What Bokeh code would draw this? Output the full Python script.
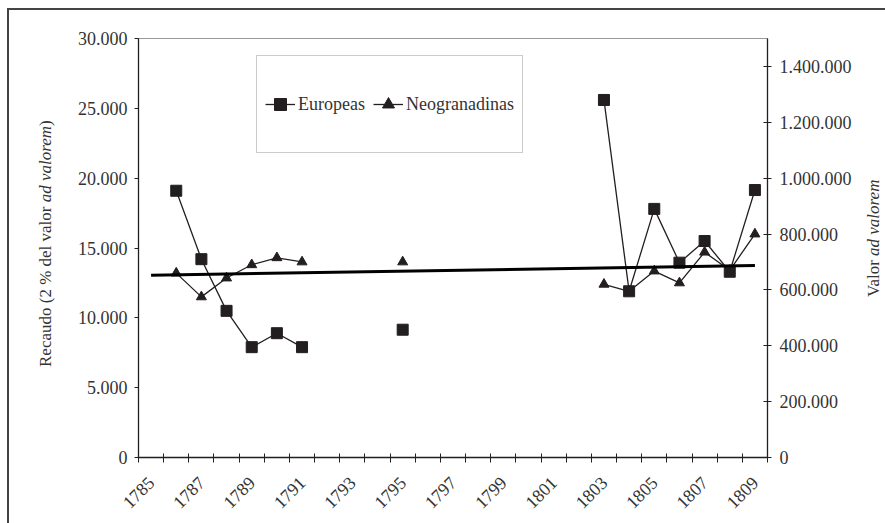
import math
import numpy as np
from bokeh.plotting import figure
from bokeh.layouts import row
from bokeh.models import (ColumnDataSource, FixedTicker, LinearAxis, Range1d,
                          Legend, LegendItem, Div)
from bokeh.embed import file_html
from bokeh.resources import INLINE

# ---------------- data ----------------
years = list(range(1785, 1810))
nan = float("nan")
europeas = [nan, 19100, 14200, 10500, 7900, 8900, 7900, nan, nan, nan, 9150,
            nan, nan, nan, nan, nan, nan, nan, 25600, 11900, 17800, 13950,
            15500, 13300, 19150]
neogranadinas = [nan, 13200, 11500, 12850, 13800, 14300, 14000, nan, nan, nan,
                 14000, nan, nan, nan, nan, nan, nan, nan, 12400, 11900, 13350,
                 12500, 14700, 13400, 16000]
left_ticks = [0, 5000, 10000, 15000, 20000, 25000, 30000]
left_labels = ["0", "5.000", "10.000", "15.000", "20.000", "25.000", "30.000"]
right_ticks = [0, 200000, 400000, 600000, 800000, 1000000, 1200000, 1400000]
right_labels = ["0", "200.000", "400.000", "600.000", "800.000", "1.000.000",
                "1.200.000", "1.400.000"]
x_label_years = list(range(1785, 1810, 2))
left_title = "Recaudo (2 % del valor <i>ad valorem</i>)"
right_title = "Valor <i>ad valorem</i>"

# linear trend of the Neogranadinas series
yr = np.array(years, dtype=float)
ng = np.array(neogranadinas, dtype=float)
m = ~np.isnan(ng)
coef = np.polyfit(yr[m], ng[m], 1)
trend_x = [years[0], years[-1]]
trend_y = [float(v) for v in np.polyval(coef, trend_x)]

# ---------------- layout ----------------
W, H = 885, 523
LW = 58            # left title strip
RX = 856           # start of right title strip
FL, FR, FT, FB = 138, 767, 38, 457
X0, X1 = 1784.5, 1809.5
Y0, Y1 = 0, 30000

FONT = "'Liberation Serif'"
INK = "#231f20"
TXT = "#333333"


def vtitle(html, width, start_y, center_x):
    # vertical text reading bottom-to-top (box rotated 180deg):
    # start_y = page y where the text begins, center_x = line centre in strip
    pad_top = H - start_y
    pad_right = center_x - 10
    inner = ('<div style="padding-top:%dpx;padding-right:%dpx;line-height:20px;'
             'white-space:nowrap">%s</div>' % (pad_top, pad_right, html))
    return Div(text=inner, width=width, height=H, margin=0,
               styles={"writing-mode": "vertical-rl",
                       "transform": "rotate(180deg)",
                       "font-family": FONT, "font-size": "17px",
                       "color": TXT, "overflow": "visible"})


left = vtitle(left_title, LW, 367, 46)
right = vtitle(right_title, W - RX, 297, 18)

p = figure(width=RX - LW, height=H, output_backend="svg", toolbar_location=None,
           x_range=Range1d(X0, X1), y_range=Range1d(Y0, Y1),
           min_border_left=FL - LW, min_border_right=RX - FR,
           min_border_top=FT, min_border_bottom=H - FB)
p.border_fill_color = None
p.grid.visible = False
p.outline_line_color = "#9a9a9a"
p.background_fill_color = "white"

xa = p.xaxis[0]
xa.ticker = FixedTicker(ticks=x_label_years,
                        minor_ticks=[y - 0.5 for y in years] + [years[-1] + 0.5])
xa.major_tick_line_color = None
xa.minor_tick_line_color = INK
xa.minor_tick_in = 4
xa.minor_tick_out = 5
xa.axis_line_color = INK
xa.axis_line_width = 1.3
xa.major_label_orientation = math.pi / 4
xa.major_label_text_font = FONT
xa.major_label_text_font_size = "18px"
xa.major_label_text_color = TXT
xa.major_label_standoff = 16

ya = p.yaxis[0]
ya.ticker = FixedTicker(ticks=left_ticks)
ya.major_label_overrides = {t: s for t, s in zip(left_ticks, left_labels)}
ya.minor_tick_line_color = None
ya.major_tick_in = 0
ya.major_tick_out = 4
ya.major_tick_line_color = INK
ya.axis_line_color = INK
ya.axis_line_width = 1.3
ya.major_label_text_font = FONT
ya.major_label_text_font_size = "18px"
ya.major_label_text_color = TXT
ya.major_label_standoff = 7

p.extra_y_ranges = {"valor": Range1d(Y0 / 0.02, Y1 / 0.02)}
ra = LinearAxis(y_range_name="valor", ticker=FixedTicker(ticks=right_ticks))
ra.major_label_overrides = {t: s for t, s in zip(right_ticks, right_labels)}
ra.minor_tick_line_color = None
ra.major_tick_in = 4
ra.major_tick_out = 4
ra.major_tick_line_color = INK
ra.axis_line_color = INK
ra.axis_line_width = 1.3
ra.major_label_text_font = FONT
ra.major_label_text_font_size = "18px"
ra.major_label_text_color = TXT
ra.major_label_standoff = 8
p.add_layout(ra, "right")

src = ColumnDataSource(dict(x=years, eu=europeas, ng=neogranadinas))
ng_line = p.line("x", "ng", source=src, line_color=INK, line_width=1.3)
ng_pts = p.scatter("x", "ng", source=src, marker="triangle", size=10,
                   fill_color=INK, line_color=INK)
eu_line = p.line("x", "eu", source=src, line_color=INK, line_width=1.3)
eu_pts = p.scatter("x", "eu", source=src, marker="square", size=11,
                   fill_color=INK, line_color=INK)
p.line(trend_x, trend_y, line_color="black", line_width=3)

legend = Legend(items=[LegendItem(label="Europeas", renderers=[eu_line, eu_pts]),
                       LegendItem(label="Neogranadinas", renderers=[ng_line, ng_pts])],
                orientation="horizontal", location=(256 - FL, FB - 153),
                glyph_width=30, glyph_height=80, label_standoff=3, spacing=8,
                padding=8, margin=0,
                label_text_font=FONT, label_text_font_size="18px",
                label_text_color=TXT, border_line_color="#9a9a9a",
                background_fill_color="white", background_fill_alpha=1)
p.add_layout(legend, "center")

lay = row(left, p, right)
lay.styles = {
    "background-color": "white",
    "background-image": "linear-gradient(#444444, #444444), linear-gradient(#444444, #444444)",
    "background-position": "7px 8px, 7px 8px",
    "background-size": "2px 2000px, 2000px 2px",
    "background-repeat": "no-repeat, no-repeat",
}

open("out.html", "w").write(file_html(lay, INLINE))
